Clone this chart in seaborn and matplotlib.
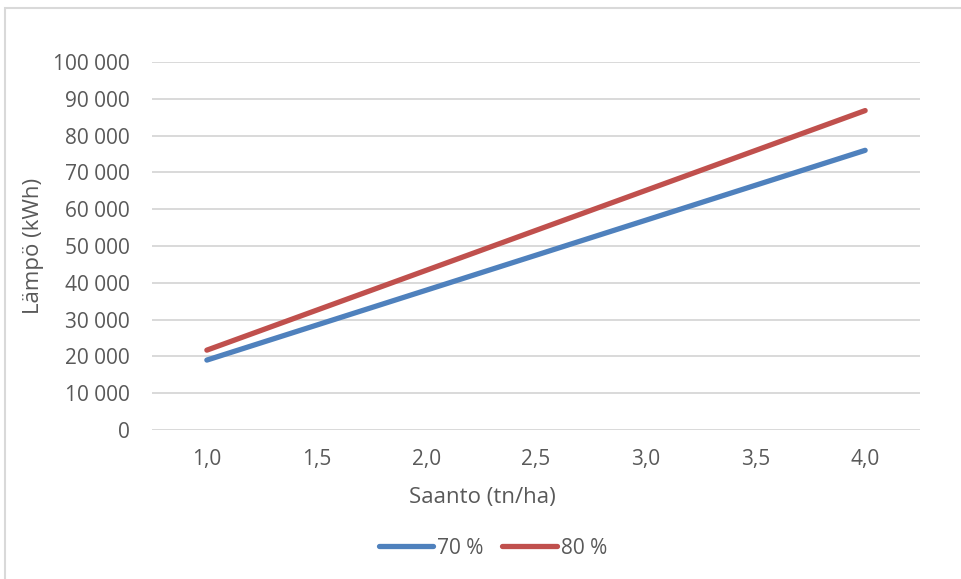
import matplotlib
matplotlib.use("Agg")
import matplotlib.pyplot as plt
import seaborn as sns
import pandas as pd
from matplotlib.ticker import FuncFormatter, MultipleLocator
from matplotlib.patches import Rectangle
from matplotlib.lines import Line2D

saanto = [1.0, 1.5, 2.0, 2.5, 3.0, 3.5, 4.0]
lampo_70 = [19000, 28500, 38000, 47500, 57000, 66500, 76000]
lampo_80 = [21700, 32550, 43400, 54250, 65100, 75950, 86800]
series_names = ["70 %", "80 %"]
colors = ["#4F81BD", "#C0504D"]

df = pd.DataFrame({
    "Saanto": saanto * 2,
    "Lämpö": lampo_70 + lampo_80,
    "Sarja": [series_names[0]] * len(saanto) + [series_names[1]] * len(saanto),
})

sns.set_theme(style="white")
plt.rcParams["font.family"] = ["Open Sans", "DejaVu Sans"]
txt = "#595959"
grid = "#D9D9D9"

fig = plt.figure(figsize=(9.61, 5.79), dpi=100)
ax = fig.add_axes([152 / 961, 1 - 430 / 579, (920 - 152) / 961, (430 - 62) / 579])

sns.lineplot(data=df, x="Saanto", y="Lämpö", hue="Sarja", palette=colors,
             linewidth=3.8, ax=ax, legend=False, solid_capstyle="round", zorder=3)

ax.set_xlim(0.75, 4.25)
ax.set_ylim(0, 100000)
ax.yaxis.set_major_locator(MultipleLocator(10000))
ax.set_xticks(saanto)
ax.xaxis.set_major_formatter(FuncFormatter(lambda v, p: f"{v:.1f}".replace(".", ",")))
ax.yaxis.set_major_formatter(FuncFormatter(lambda v, p: f"{int(round(v)):,}".replace(",", " ")))
ax.grid(axis="y", color=grid, linewidth=1.4, zorder=0)
ax.grid(axis="x", visible=False)
for s in ax.spines.values():
    s.set_visible(False)
ax.tick_params(axis="both", length=0, labelsize=15, colors=txt)
ax.tick_params(axis="y", pad=16)
ax.tick_params(axis="x", pad=14)
ax.set_xlabel("")
ax.set_ylabel("")

fig.text(482 / 961, 1 - 497 / 579, "Saanto (tn/ha)", ha="center", va="center",
         fontsize=16, color=txt)
fig.text(33 / 961, 1 - 246 / 579, "Lämpö (kWh)", ha="center", va="center",
         rotation=90, fontsize=16, color=txt)

handles = [Line2D([0], [0], color=c, linewidth=3.8, solid_capstyle="round") for c in colors]
fig.legend(handles, series_names, loc="center", bbox_to_anchor=(493 / 961, 1 - 548 / 579),
           ncol=2, frameon=False, fontsize=15, labelcolor=txt, handlelength=2.6,
           handletextpad=0.2, columnspacing=0.9)

fig.patches.append(Rectangle((5 / 961, -0.05), 1.2, 1 - 8 / 579 + 0.05,
                             transform=fig.transFigure, fill=False,
                             edgecolor=grid, linewidth=1.5))

fig.savefig("out.png", dpi=100)
